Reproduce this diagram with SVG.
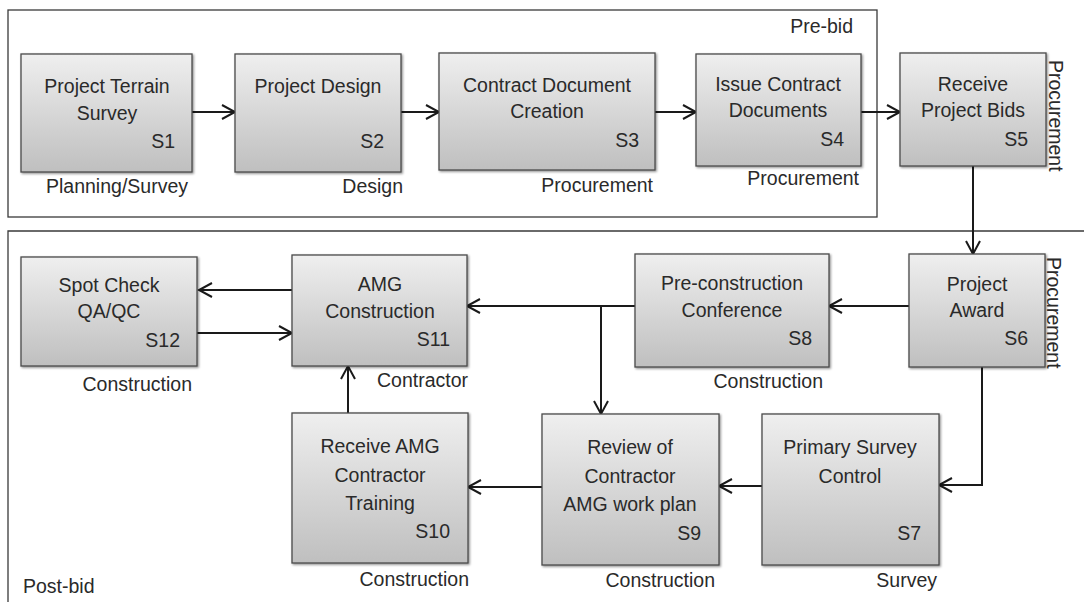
<svg xmlns="http://www.w3.org/2000/svg" width="1084" height="602" viewBox="0 0 1084 602">
<defs>
<linearGradient id="g" x1="0" y1="0" x2="0" y2="1">
<stop offset="0" stop-color="#efefef"/>
<stop offset="1" stop-color="#bfbfbf"/>
</linearGradient>
<filter id="sh" x="-5%" y="-5%" width="115%" height="115%">
<feDropShadow dx="1.2" dy="1.2" stdDeviation="0.8" flood-color="#000" flood-opacity="0.45"/>
</filter>
<marker id="ah" markerWidth="18" markerHeight="18" refX="14" refY="9" orient="auto" markerUnits="userSpaceOnUse">
<path d="M1,2 L14,9 L1,16" fill="none" stroke="#1a1a1a" stroke-width="2"/>
</marker>
</defs>
<style>
.box{fill:url(#g);stroke:#4a4a4a;stroke-width:1.3;filter:url(#sh)}
.frame{fill:none;stroke:#3a3a3a;stroke-width:1.3}
text{font-family:"Liberation Sans",Arial,sans-serif;font-size:19.5px;fill:#2a2a2a}
.c{text-anchor:middle}
.e{text-anchor:end}
.ln{fill:none;stroke:#1a1a1a;stroke-width:2}
.ar{marker-end:url(#ah)}
</style>
<rect width="1084" height="602" fill="#fff"/>
<g id="prebid">
<rect class="frame" x="8" y="10" width="869" height="207"/>
<text class="e" x="853" y="33">Pre-bid</text>
</g>
<g id="postbid">
<path class="frame" d="M1086,231 L8,231 L8,604"/>
<text x="23" y="593">Post-bid</text>
</g>
<g id="connectors">
<line class="ln ar" x1="192" y1="112" x2="235" y2="112"/>
<line class="ln ar" x1="401" y1="112" x2="439" y2="112"/>
<line class="ln ar" x1="655" y1="112" x2="696" y2="112"/>
<line class="ln ar" x1="861" y1="112" x2="900" y2="112"/>
<line class="ln ar" x1="973" y1="166" x2="973" y2="254"/>
<line class="ln ar" x1="909" y1="306" x2="829" y2="306"/>
<line class="ln ar" x1="635" y1="306" x2="467" y2="306"/>
<line class="ln ar" x1="601" y1="306" x2="601" y2="414"/>
<polyline class="ln ar" points="982,367 982,485 939,485"/>
<line class="ln ar" x1="762" y1="486" x2="719" y2="486"/>
<line class="ln ar" x1="542" y1="487" x2="468" y2="487"/>
<line class="ln ar" x1="348" y1="413" x2="348" y2="366"/>
<line class="ln ar" x1="292" y1="290" x2="199" y2="290"/>
<line class="ln ar" x1="197" y1="333" x2="292" y2="333"/>
</g>
<g id="S1">
<rect class="box" x="21" y="54" width="171" height="118"/>
<text class="c" x="107" y="93">Project Terrain</text>
<text class="c" x="107" y="120">Survey</text>
<text class="e" x="175" y="148">S1</text>
<text class="e" x="188" y="193">Planning/Survey</text>
</g>
<g id="S2">
<rect class="box" x="235" y="54" width="166" height="118"/>
<text class="c" x="318" y="93">Project Design</text>
<text class="e" x="384" y="148">S2</text>
<text class="e" x="403" y="193">Design</text>
</g>
<g id="S3">
<rect class="box" x="439" y="53" width="216" height="117"/>
<text class="c" x="547" y="92">Contract Document</text>
<text class="c" x="547" y="118">Creation</text>
<text class="e" x="639" y="147">S3</text>
<text class="e" x="653" y="192">Procurement</text>
</g>
<g id="S4">
<rect class="box" x="696" y="54" width="165" height="112"/>
<text class="c" x="778" y="91">Issue Contract</text>
<text class="c" x="778" y="117">Documents</text>
<text class="e" x="844" y="146">S4</text>
<text class="e" x="859" y="185">Procurement</text>
</g>
<g id="S5">
<rect class="box" x="900" y="53" width="146" height="113"/>
<text class="c" x="973" y="91">Receive</text>
<text class="c" x="973" y="117">Project Bids</text>
<text class="e" x="1028" y="146">S5</text>
<text transform="translate(1049,60) rotate(90)">Procurement</text>
</g>
<g id="S6">
<rect class="box" x="909" y="254" width="136" height="113"/>
<text class="c" x="977" y="291">Project</text>
<text class="c" x="977" y="317">Award</text>
<text class="e" x="1028" y="345">S6</text>
<text transform="translate(1047,257) rotate(90)">Procurement</text>
</g>
<g id="S8">
<rect class="box" x="635" y="254" width="194" height="113"/>
<text class="c" x="732" y="290">Pre-construction</text>
<text class="c" x="732" y="317">Conference</text>
<text class="e" x="812" y="345">S8</text>
<text class="e" x="823" y="388">Construction</text>
</g>
<g id="S11">
<rect class="box" x="292" y="255" width="175" height="111"/>
<text class="c" x="380" y="291">AMG</text>
<text class="c" x="380" y="318">Construction</text>
<text class="e" x="450" y="346">S11</text>
<text class="e" x="468" y="387">Contractor</text>
</g>
<g id="S12">
<rect class="box" x="21" y="257" width="176" height="109"/>
<text class="c" x="109" y="292">Spot Check</text>
<text class="c" x="109" y="318">QA/QC</text>
<text class="e" x="180" y="347">S12</text>
<text class="e" x="192" y="391">Construction</text>
</g>
<g id="S7">
<rect class="box" x="762" y="414" width="177" height="151"/>
<text class="c" x="850" y="454">Primary Survey</text>
<text class="c" x="850" y="483">Control</text>
<text class="e" x="921" y="540">S7</text>
<text class="e" x="937" y="587">Survey</text>
</g>
<g id="S9">
<rect class="box" x="542" y="414" width="177" height="151"/>
<text class="c" x="630" y="454">Review of</text>
<text class="c" x="630" y="483">Contractor</text>
<text class="c" x="630" y="511">AMG work plan</text>
<text class="e" x="701" y="540">S9</text>
<text class="e" x="715" y="587">Construction</text>
</g>
<g id="S10">
<rect class="box" x="292" y="413" width="176" height="150"/>
<text class="c" x="380" y="453">Receive AMG</text>
<text class="c" x="380" y="482">Contractor</text>
<text class="c" x="380" y="510">Training</text>
<text class="e" x="450" y="538">S10</text>
<text class="e" x="469" y="586">Construction</text>
</g>
</svg>
